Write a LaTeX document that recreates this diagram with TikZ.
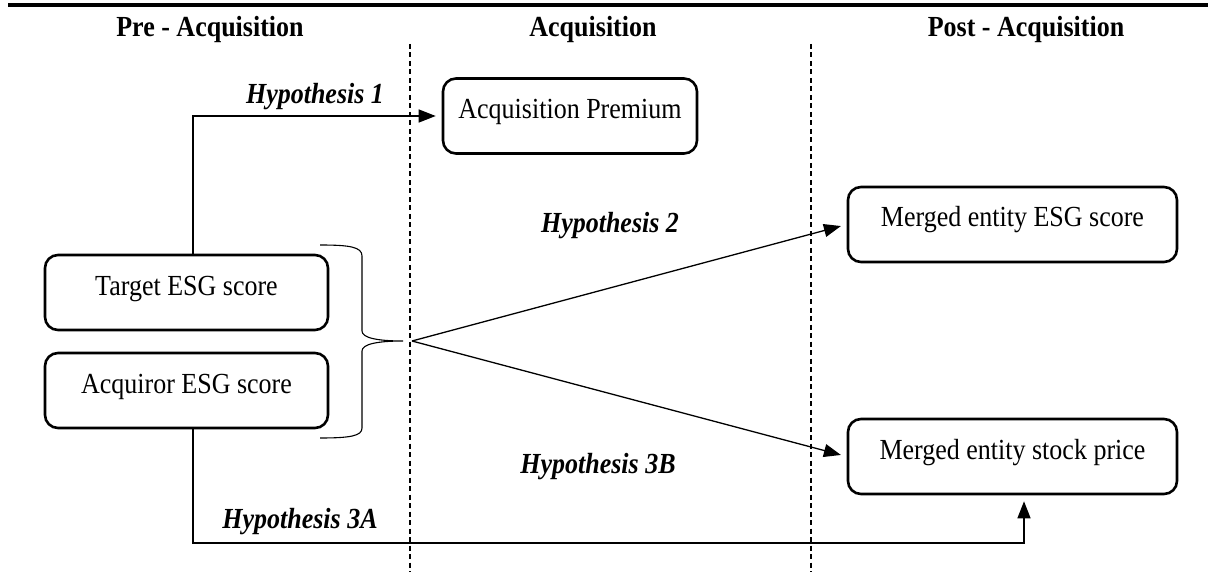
\documentclass[tikz,border=0pt]{standalone}
\usepackage{fontspec}
\usepackage{graphicx}
\setmainfont{Liberation Serif}
\usetikzlibrary{arrows.meta}
\newcommand{\tallt}[1]{\scalebox{1}[1.12]{#1}}
\begin{document}
\begin{tikzpicture}[x=1pt,y=-1pt,
  box/.style={draw, line width=2.6pt, rounded corners=13pt, minimum height=75pt,
    inner sep=0pt, text height=18pt, text depth=13pt, font=\fontsize{26}{30}\selectfont},
  conn/.style={line width=1.3pt, -{Triangle[length=17pt,width=13pt]}, shorten >=6pt},
  hyp/.style={font=\fontsize{26}{30}\selectfont\bfseries\itshape, inner sep=0pt, anchor=base},
  head/.style={font=\fontsize{26}{30}\selectfont\bfseries, inner sep=0pt, anchor=base},
  sep/.style={line width=2pt, dash pattern=on 5pt off 3.5pt},
  bracestyle/.style={line width=1.1pt}]
\useasboundingbox (0,0) rectangle (1208,572);
% top rule
\coordinate (ruleL) at (8,5);
\coordinate (ruleR) at (1208,5);
\draw[line width=4pt] (ruleL) -- (ruleR);
% headers
\node[head] (hpre) at (210,37) {\tallt{Pre - Acquisition}};
\node[head] (hacq) at (593,37) {\tallt{Acquisition}};
\node[head] (hpost) at (1026,37) {\tallt{Post - Acquisition}};
% separators
\coordinate (s1t) at (410,44); \coordinate (s1b) at (410,572);
\coordinate (s2t) at (811,44); \coordinate (s2b) at (811,572);
\draw[sep] (s1t) -- (s1b);
\draw[sep] (s2t) -- (s2b);
% boxes
\node[box, minimum width=283pt] (target) at (186.5,292.5) {\tallt{Target ESG score}};
\node[box, minimum width=283pt] (acquiror) at (186.5,390.5) {\tallt{Acquiror ESG score}};
\node[box, minimum width=254pt] (premium) at (570,116) {\tallt{Acquisition Premium}};
\node[box, minimum width=329pt] (mesg) at (1012.5,224.5) {\tallt{Merged entity ESG score}};
\node[box, minimum width=329pt] (mstock) at (1012.5,456.5) {\tallt{Merged entity stock price}};
% brace
\coordinate (bt) at (320,245);
\coordinate (bb) at (320,438);
\coordinate (btip) at (403,341);
\draw[bracestyle] (bt) .. controls (350,245) and (362,247) .. (362,256)
  -- (362,331) .. controls (362,338) and (378,341) .. (btip)
  .. controls (378,341) and (362,344) .. (362,351)
  -- (362,428) .. controls (362,436) and (350,438) .. (bb);
% hub
\coordinate (hub) at (412,341);
% Hypothesis 1
\draw[conn] (target.north -| 193,0) |- (premium.west);
\node[hyp] (h1) at (315,104) {\tallt{Hypothesis 1}};
% Hypothesis 2
\draw[conn] (hub) -- (mesg.west);
\node[hyp] (h2) at (610,233) {\tallt{Hypothesis 2}};
% Hypothesis 3B
\draw[conn] (hub) -- (mstock.west);
\node[hyp] (h3b) at (598,473) {\tallt{Hypothesis 3B}};
% Hypothesis 3A
\coordinate (c3a) at (193,543);
\draw[conn] (acquiror.south -| c3a) -- (c3a) -| (mstock.south -| 1024,0);
\node[hyp] (h3a) at (300,528) {\tallt{Hypothesis 3A}};
\end{tikzpicture}
\end{document}
